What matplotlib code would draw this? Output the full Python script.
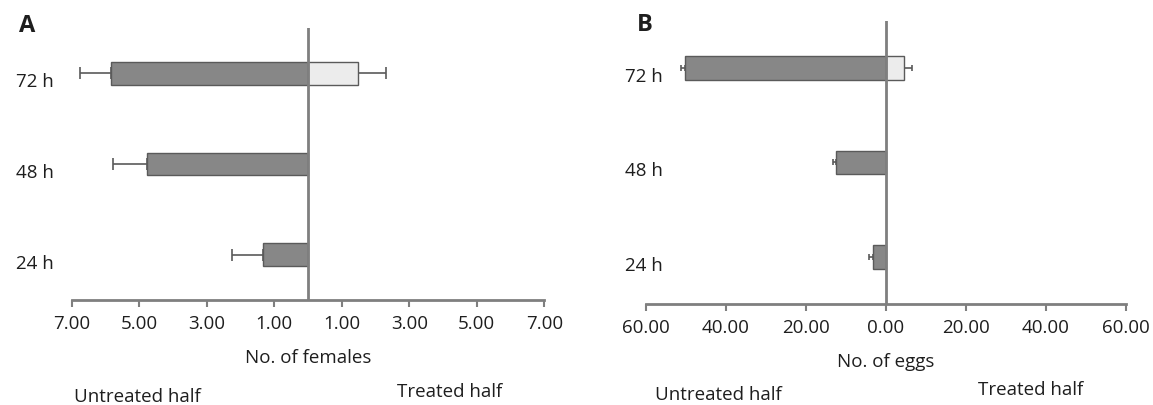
import numpy as np
import matplotlib
matplotlib.use("Agg")
import matplotlib.pyplot as plt

plt.rcParams['font.family'] = ['Open Sans', 'DejaVu Sans']

# time points, bottom to top
hours = ['24 h', '48 h', '72 h']

# A: number of females
fem_untreated = [1.32, 4.78, 5.83]
fem_untreated_err = [0.93, 1.00, 0.93]
fem_treated = [0.0, 0.0, 1.47]
fem_treated_err = [0.0, 0.0, 0.83]
fem_ticks = [-7, -5, -3, -1, 1, 3, 5, 7]

# B: number of eggs
egg_untreated = [3.25, 12.45, 50.3]
egg_untreated_err = [0.9, 0.9, 0.9]
egg_treated = [0.0, 0.0, 4.5]
egg_treated_err = [0.0, 0.0, 1.9]
egg_ticks = [-60, -40, -20, 0, 20, 40, 60]

DARK = '#878787'
LIGHT = '#ececec'
EDGE = '#5a5a5a'
AXC = '#7f7f7f'
TXT = '#1e1e1e'


def half_plot(ax, untreated, u_err, treated, t_err, ticks, lim, xlabel, ylab_pad, capsize):
    y = np.arange(len(hours))
    h = 0.25
    ax.barh(y, -np.array(untreated), height=h, color=DARK, edgecolor=EDGE, lw=1, zorder=3)
    ax.errorbar(-np.array(untreated), y, xerr=[u_err, np.zeros(len(y))], fmt='none',
                ecolor=EDGE, elinewidth=1.2, capsize=capsize, capthick=1.2, zorder=2)
    for i in range(len(y)):
        if treated[i] > 0:
            ax.barh(y[i], treated[i], height=h, color=LIGHT, edgecolor=EDGE, lw=1, zorder=3)
            ax.errorbar(treated[i], y[i], xerr=[[0], [t_err[i]]], fmt='none',
                        ecolor=EDGE, elinewidth=1.2, capsize=capsize, capthick=1.2, zorder=2)
    ax.axvline(0, color=AXC, lw=2, zorder=4)
    ax.set_xlim(-lim, lim)
    ax.set_ylim(-0.5, 2.5)
    ax.set_xticks(ticks)
    ax.set_xticklabels([f"{abs(t):.2f}" for t in ticks])
    ax.set_yticks(y)
    ax.set_yticklabels(hours)
    for s in ['left', 'right', 'top']:
        ax.spines[s].set_visible(False)
    ax.spines['bottom'].set_color(AXC)
    ax.spines['bottom'].set_linewidth(2)
    ax.tick_params(axis='x', colors=AXC, length=5, width=1.5, pad=6, labelsize=13.5, labelcolor=TXT)
    ax.tick_params(axis='y', length=0, pad=ylab_pad, labelsize=13.5, labelcolor=TXT)
    for lab in ax.get_yticklabels():
        lab.set_verticalalignment('top')
        lab.set_y(lab.get_position()[1])
    ax.set_xlabel(xlabel, fontsize=13.5, color=TXT, labelpad=11)


fig = plt.figure(figsize=(11.53, 4.05), dpi=100)
axA = fig.add_axes([0.0622, 0.2593, 0.4098, 0.6716])
axB = fig.add_axes([0.5603, 0.2494, 0.4163, 0.6988])

half_plot(axA, fem_untreated, fem_untreated_err, fem_treated, fem_treated_err,
          fem_ticks, 7, 'No. of females', 13, 4)
half_plot(axB, egg_untreated, egg_untreated_err, egg_treated, egg_treated_err,
          egg_ticks, 60, 'No. of eggs', -12, 2.5)

fig.text(27 / 1153, 1 - 26 / 405, 'A', fontsize=17, fontweight='bold', color=TXT,
         ha='center', va='center')
fig.text(645 / 1153, 1 - 25 / 405, 'B', fontsize=17, fontweight='bold', color=TXT,
         ha='center', va='center')

for x0, y_u, y_t in [(74, 397, 392), (655, 395, 390)]:
    fig.text(x0 / 1153, 1 - y_u / 405, 'Untreated half', fontsize=13.5, color=TXT, va='center')
    fig.text((x0 + 323) / 1153, 1 - y_t / 405, 'Treated half', fontsize=13.5, color=TXT, va='center')

fig.savefig('out.png', dpi=100)
